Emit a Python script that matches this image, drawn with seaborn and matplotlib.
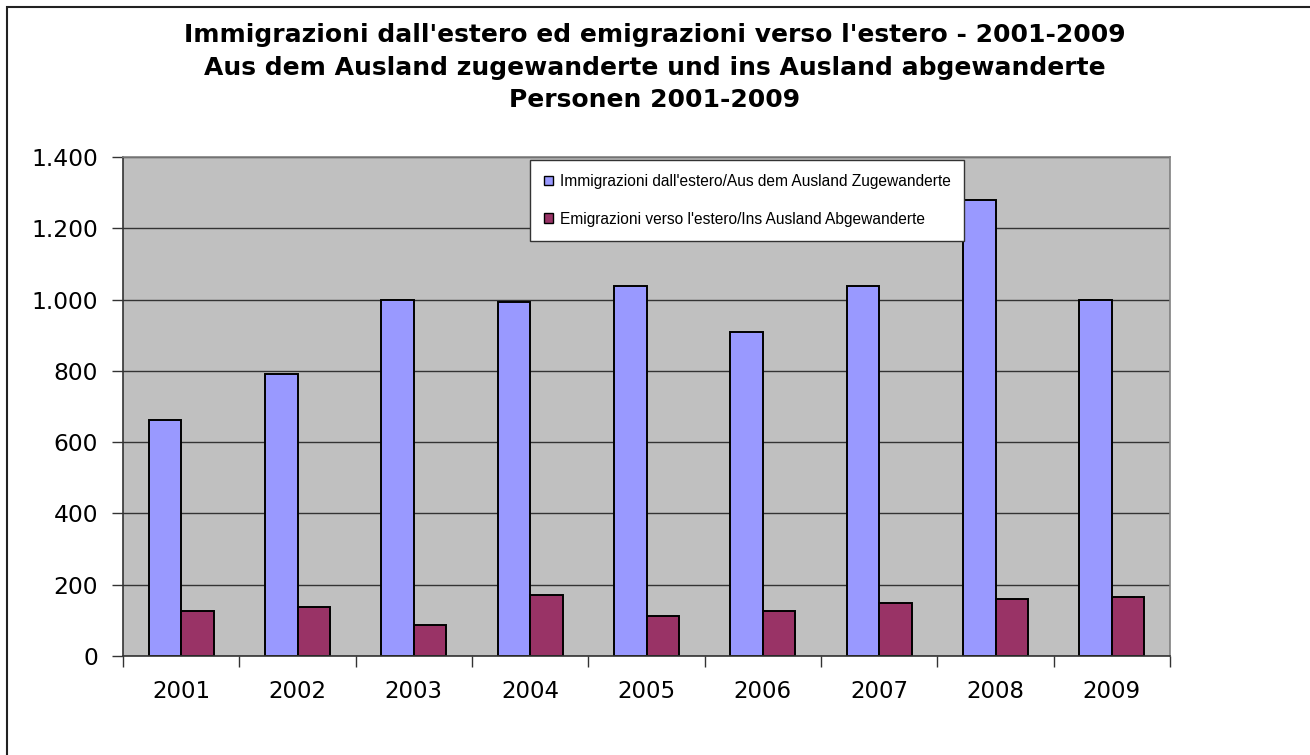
import matplotlib
matplotlib.use("Agg")
import matplotlib.pyplot as plt
from matplotlib.patches import Rectangle
from matplotlib.ticker import FuncFormatter, FixedLocator
import seaborn as sns
import pandas as pd

years = ["2001", "2002", "2003", "2004", "2005", "2006", "2007", "2008", "2009"]
immigration = [661, 790, 1000, 993, 1037, 908, 1037, 1278, 1000]
emigration = [126, 137, 87, 171, 113, 126, 149, 159, 166]
series_names = ["Immigrazioni dall'estero/Aus dem Ausland Zugewanderte",
                "Emigrazioni verso l'estero/Ins Ausland Abgewanderte"]
title_lines = ["Immigrazioni dall'estero ed emigrazioni verso l'estero - 2001-2009",
               "Aus dem Ausland zugewanderte und ins Ausland abgewanderte",
               "Personen 2001-2009"]
y_ticks = [0, 200, 400, 600, 800, 1000, 1200, 1400]

df = pd.DataFrame({
    "year": years * 2,
    "value": immigration + emigration,
    "series": [series_names[0]] * len(years) + [series_names[1]] * len(years),
})

sns.set_style("white")
plt.rcParams['font.family'] = ['DejaVu Sans']
plt.rcParams['text.color'] = 'black'
plt.rcParams['xtick.color'] = '#333333'
plt.rcParams['ytick.color'] = '#333333'
plt.rcParams['xtick.labelcolor'] = 'black'
plt.rcParams['ytick.labelcolor'] = 'black'

W, H = 1310, 755
fig = plt.figure(figsize=(W / 100, H / 100), dpi=100)
ax = fig.add_axes([123 / W, 1 - 656 / H, (1170 - 123) / W, (656 - 157) / H])
ax.set_facecolor("#C0C0C0")

sns.barplot(data=df, x="year", y="value", hue="series",
            palette=["#9999FF", "#993366"], saturation=1, width=0.56,
            edgecolor="black", linewidth=1.4, ax=ax, legend=True)

ax.set_ylim(0, 1400)
ax.set_xlim(-0.5, len(years) - 0.5)
ax.set_yticks(y_ticks)
ax.yaxis.set_major_formatter(FuncFormatter(lambda v, p: f"{int(v):,}".replace(",", ".")))
ax.yaxis.grid(True, color="#333333", linewidth=1.0)
ax.set_axisbelow(True)
ax.set_xlabel("")
ax.set_ylabel("")

ax.xaxis.set_minor_locator(FixedLocator([i - 0.5 for i in range(len(years) + 1)]))
ax.tick_params(axis="x", which="major", bottom=True, length=0, labelsize=16.5, pad=17,
               labelcolor="black")
ax.tick_params(axis="x", which="minor", bottom=True, length=8, width=1, color="#333333",
               direction="out")
ax.tick_params(axis="y", which="major", left=True, length=8, width=1, color="#333333",
               direction="out", labelsize=16.8, pad=10, labelcolor="black")

for side in ["left", "bottom"]:
    ax.spines[side].set_color("#333333")
    ax.spines[side].set_linewidth(1.2)
for side in ["top", "right"]:
    ax.spines[side].set_color("#808080")
    ax.spines[side].set_linewidth(1.2)

handles, labels = ax.get_legend_handles_labels()
ax.get_legend().remove()
leg = fig.legend(handles, labels, loc="upper left",
                 bbox_to_anchor=(530 / W, 1 - 160 / H), bbox_transform=fig.transFigure,
                 prop={"family": "Liberation Sans", "size": 11.2},
                 handlelength=0.55, handleheight=0.55, handletextpad=0.45,
                 labelspacing=1.45, borderpad=0.9, borderaxespad=0,
                 frameon=True, fancybox=False, framealpha=1)
leg.get_frame().set_edgecolor("#333333")
leg.get_frame().set_linewidth(1.0)
for h in leg.legend_handles:
    h.set_linewidth(1.0)
for t in leg.get_texts():
    t.set_color("black")

title_y = [35, 68, 100]
for t, y in zip(title_lines, title_y):
    fig.text(655 / W, 1 - y / H, t, ha="center", va="center", color="black",
             fontsize=18, fontweight="bold", family="DejaVu Sans")

fig.patches.append(Rectangle((7 / W, -0.05), 1.1, 1 - 7 / H + 0.05, transform=fig.transFigure,
                             fill=False, edgecolor="#222222", linewidth=1.5))

fig.savefig("out.png", dpi=100)
